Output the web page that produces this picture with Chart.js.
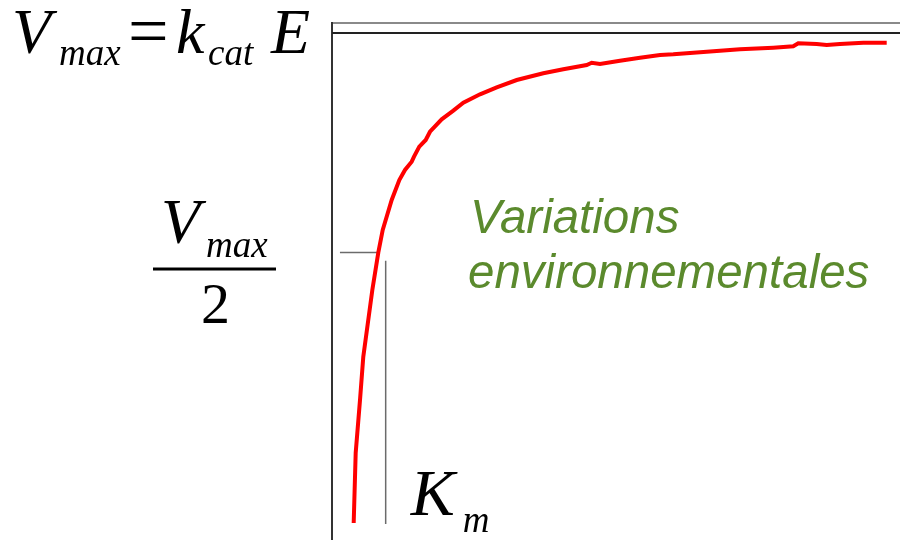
<!DOCTYPE html>
<html>
<head>
<meta charset="utf-8">
<script src="https://cdn.jsdelivr.net/npm/chart.js@4/dist/chart.umd.min.js"></script>
<style>
  html, body { margin: 0; padding: 0; background: #ffffff; }
  #wrap { width: 900px; height: 540px; }
</style>
</head>
<body>
<div id="wrap"><canvas id="mm" width="900" height="540"></canvas></div>
<script>
// Michaelis–Menten saturation curve: substrate concentration vs. reaction rate
const substrate = [3.82, 4.17, 4.93, 5.51, 7.10, 8.15, 8.93, 10.51, 11.85, 12.85, 14.03, 14.44,
  15.37, 16.50, 17.25, 19.31, 21.36, 23.12, 26.06, 29.00, 32.52, 37.20, 40.72, 44.84, 45.72,
  47.18, 50.70, 54.23, 57.75, 60.09, 65.97, 71.83, 77.69, 81.21, 82.09, 85.33, 87.10, 89.44,
  93.54, 97.66];
const rate = [3.28, 16.80, 27.03, 35.39, 48.26, 55.46, 59.85, 65.64, 69.50, 71.43, 73.03, 74.00,
  75.93, 77.22, 78.82, 81.22, 82.88, 84.42, 86.04, 87.39, 88.80, 90.10, 90.87, 91.70, 92.14,
  91.89, 92.53, 93.11, 93.63, 93.76, 94.27, 94.73, 95.04, 95.31, 95.89, 95.75, 95.56, 95.75,
  96.00, 96.00];

// reference levels
const VMAX = 97.9;          // plateau V_max = k_cat E
const HALF_LEVEL = 55.5;    // V_max / 2 marker
const HALF_SPAN = [1.4, 8.3];
const KM = 9.45;            // K_m marker
const KM_SPAN = [3.1, 53.9];

const curve = substrate.map((s, i) => ({ x: s, y: rate[i] }));

const frame = {
  id: 'frame',
  beforeDatasetsDraw(chart) {
    const { ctx, chartArea: a } = chart;
    ctx.save();
    ctx.lineWidth = 2;
    ctx.strokeStyle = '#8a8a8a';
    ctx.beginPath();
    ctx.moveTo(a.left, a.top + 1);
    ctx.lineTo(a.right, a.top + 1);
    ctx.stroke();
    ctx.strokeStyle = '#333333';
    ctx.beginPath();
    ctx.moveTo(a.left, a.top);
    ctx.lineTo(a.left, a.bottom);
    ctx.stroke();
    ctx.restore();
  }
};

const labels = {
  id: 'labels',
  afterDraw(chart) {
    const { ctx } = chart;
    const ys = chart.scales.y, xs = chart.scales.x;
    const serif = '"Liberation Serif", "Times New Roman", serif';
    const big = 'italic 64px ' + serif;
    const sub = 'italic 37px ' + serif;
    ctx.save();
    ctx.fillStyle = '#000000';
    ctx.textBaseline = 'alphabetic';
    ctx.textAlign = 'left';

    // V_max = k_cat E
    ctx.font = big;
    ctx.fillText('V', 12, 53);
    ctx.font = sub;
    ctx.fillText('max', 59, 65);
    ctx.font = '72px ' + serif;
    ctx.fillText('=', 128, 55);
    ctx.font = big;
    ctx.fillText('k', 176, 53);
    ctx.font = sub;
    ctx.fillText('cat', 208, 65);
    ctx.font = big;
    ctx.fillText('E', 271, 53);

    // V_max / 2
    const yh = ys.getPixelForValue(HALF_LEVEL);
    ctx.font = big;
    ctx.fillText('V', 161, yh - 10);
    ctx.font = sub;
    ctx.fillText('max', 206, yh + 4);
    ctx.fillRect(153, yh + 15, 123, 3);
    ctx.font = '58px ' + serif;
    ctx.fillText('2', 201, yh + 70);

    // K_m
    const xk = xs.getPixelForValue(KM);
    ctx.font = 'italic 66px ' + serif;
    ctx.fillText('K', xk + 25, 515);
    ctx.font = sub;
    ctx.fillText('m', xk + 77, 532);

    // annotation
    ctx.fillStyle = '#5b8a2d';
    ctx.font = 'italic 47.5px "Liberation Sans", Arial, sans-serif';
    ctx.fillText('Variations', 470, 233);
    ctx.fillText('environnementales', 468, 288);
    ctx.restore();
  }
};

new Chart(document.getElementById('mm'), {
  type: 'scatter',
  data: {
    datasets: [
      {
        data: curve,
        showLine: true,
        borderColor: '#ff0000',
        borderWidth: 4,
        pointRadius: 0,
        tension: 0,
        order: 0
      },
      {
        data: [{ x: 0, y: VMAX }, { x: 100, y: VMAX }],
        showLine: true,
        borderColor: '#222222',
        borderWidth: 2,
        pointRadius: 0,
        order: 1
      },
      {
        data: [{ x: HALF_SPAN[0], y: HALF_LEVEL }, { x: HALF_SPAN[1], y: HALF_LEVEL }],
        showLine: true,
        borderColor: '#6b6b6b',
        borderWidth: 1.5,
        pointRadius: 0,
        order: 1
      },
      {
        data: [{ x: KM, y: KM_SPAN[0] }, { x: KM, y: KM_SPAN[1] }],
        showLine: true,
        borderColor: '#6b6b6b',
        borderWidth: 1.5,
        pointRadius: 0,
        order: 1
      }
    ]
  },
  options: {
    responsive: false,
    animation: false,
    layout: { padding: { left: 332, top: 22, right: 0, bottom: 0 } },
    scales: {
      x: { type: 'linear', min: 0, max: 100, display: false },
      y: { type: 'linear', min: 0, max: 100, display: false }
    },
    plugins: { legend: { display: false }, tooltip: { enabled: false } }
  },
  plugins: [frame, labels]
});
</script>
</body>
</html>
